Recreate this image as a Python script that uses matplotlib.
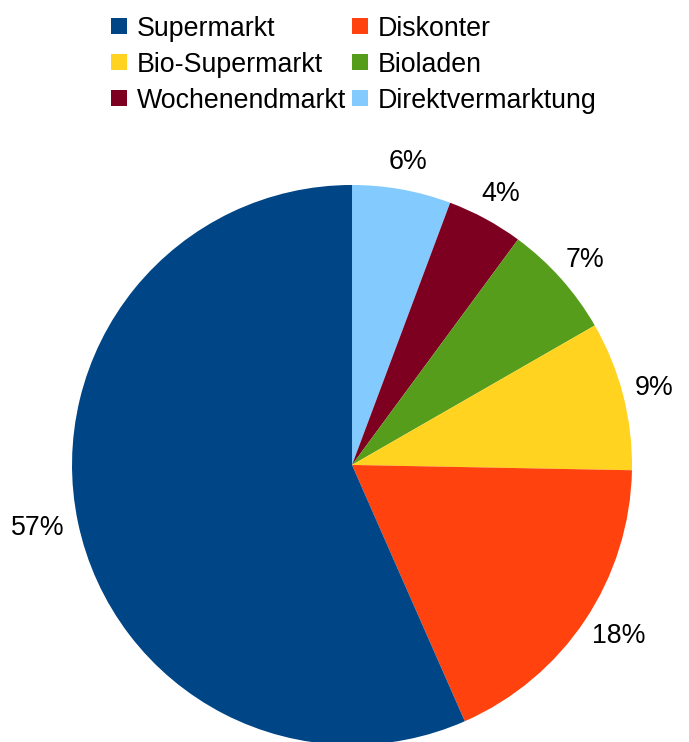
import numpy as np
import matplotlib.pyplot as plt
from matplotlib.lines import Line2D

plt.rcParams["font.family"] = ["Liberation Sans", "DejaVu Sans"]

# Einkaufsorte, clockwise from 12 o'clock
categories = ["Direktvermarktung", "Wochenendmarkt", "Bioladen",
              "Bio-Supermarkt", "Diskonter", "Supermarkt"]
shares = [5.7, 4.4, 6.6, 8.6, 18.1, 56.6]
colors = ["#83caff", "#7e0021", "#579d1c", "#ffd320", "#ff420e", "#004586"]

# legend reads row-wise: Supermarkt / Diskonter, Bio-Supermarkt / Bioladen, ...
legend_order = ["Supermarkt", "Bio-Supermarkt", "Wochenendmarkt",
                "Diskonter", "Bioladen", "Direktvermarktung"]

fig = plt.figure(figsize=(6.89, 7.42), dpi=100)
ax = fig.add_axes([0.1045, -0.004, 0.8128, 0.7547])

wedges, _ = ax.pie(
    shares, colors=colors, startangle=90, counterclock=False,
    radius=1.0, wedgeprops=dict(linewidth=0),
)
for w in wedges:
    w.set_clip_on(False)

# percentage labels sit just outside the rim, pushed out by half their box
gap, half_h = 0.05, 0.05
for w, s in zip(wedges, shares):
    label = f"{round(s)}%"
    half_w = 0.032 * len(label)
    mid = np.deg2rad((w.theta1 + w.theta2) / 2)
    ux, uy = np.cos(mid), np.sin(mid)
    x = (1 + gap + half_w) * ux
    y = (1 + gap + half_h) * uy
    ax.text(x, y, label, ha="center", va="center",
            fontsize=19.3, color="black", clip_on=False)

ax.set_xlim(-1, 1)
ax.set_ylim(-1, 1)
ax.set_aspect("equal")
ax.axis("off")

handles = []
for name in legend_order:
    c = colors[categories.index(name)]
    handles.append(Line2D([], [], linestyle="none", marker="s", markersize=11,
                          markerfacecolor=c, markeredgewidth=0, label=name))

fig.legend(handles=handles, ncol=2, loc="upper left",
           bbox_to_anchor=(0.128, 1.008), frameon=False, fontsize=19.3,
           handlelength=0.7, handletextpad=0.3, columnspacing=0.18,
           labelspacing=0.38, borderpad=0.3)

fig.savefig("out.png", dpi=100)
